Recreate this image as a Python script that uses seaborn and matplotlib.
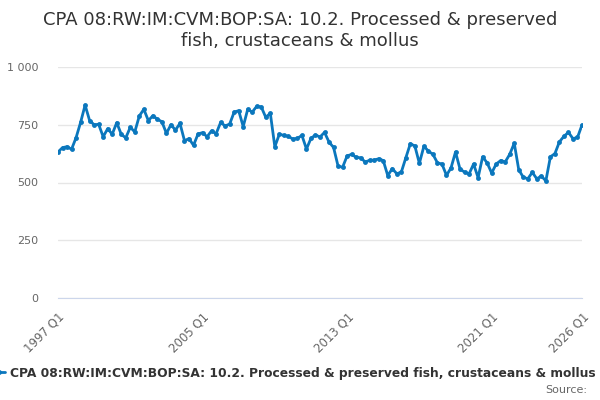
import numpy as np
import pandas as pd
import seaborn as sns
import matplotlib.pyplot as plt
from matplotlib.ticker import FuncFormatter

# quarterly values, 1997 Q1 .. 2026 Q1
vals_1997_2006 = [632, 651, 655, 644, 694, 760, 835, 768, 750, 752, 698, 733, 709, 759,
                  709, 693, 739, 719, 788, 817, 768, 789, 774, 763, 713, 750, 727, 756,
                  681, 690, 661, 710, 716, 698, 724, 711, 760, 745, 753]
vals_2006_2014 = [805, 811, 742, 817, 805, 830, 827, 782, 800, 655, 709, 704, 700, 688,
                  691, 704, 645, 691, 706, 697, 717, 675, 652, 571, 566, 615, 622, 609,
                  607, 589, 596, 597, 603]
vals_2015_2026 = [595, 530, 560, 538, 545, 607, 668, 658, 583, 657, 636, 622, 585, 580,
                  531, 563, 632, 558, 545, 537, 580, 521, 611, 585, 541, 580, 595, 589,
                  622, 670, 555, 523, 516, 544, 516, 528, 507, 611, 625, 676, 700, 717,
                  690, 695, 749]
values = vals_1997_2006 + vals_2006_2014 + vals_2015_2026
quarters = [f"{1997 + i // 4} Q{i % 4 + 1}" for i in range(len(values))]
labelled = ["1997 Q1", "2005 Q1", "2013 Q1", "2021 Q1", "2026 Q1"]
series_name = "CPA 08:RW:IM:CVM:BOP:SA: 10.2. Processed & preserved fish, crustaceans & mollus"

df = pd.DataFrame({"pos": np.arange(len(values)), "quarter": quarters, "value": values})

sns.set_style("white")
plt.rcParams['font.family'] = ['DejaVu Sans']

fig = plt.figure(figsize=(6, 4), dpi=100)
ax = fig.add_axes([58 / 600, 1 - 298 / 400, (582 - 58) / 600, (298 - 67) / 400])

sns.lineplot(data=df, x="pos", y="value", ax=ax, color="#0b77bd", linewidth=2,
             marker="o", markersize=3.5, markeredgewidth=0, label=series_name)

ax.set_xlim(0, len(values) - 1)
ax.set_ylim(0, 1000)
ax.set_yticks([0, 250, 500, 750, 1000])
ax.yaxis.set_major_formatter(FuncFormatter(lambda v, p: f"{int(v):,}".replace(",", " ")))
ax.grid(axis="y", color="#e6e6e6", linewidth=1)
ax.set_axisbelow(True)

tick_pos = list(range(0, len(values) - 1, 8)) + [len(values) - 1]
ax.set_xticks(tick_pos)
ax.set_xticklabels([quarters[i] if quarters[i] in labelled else "" for i in tick_pos],
                   rotation=45, ha="right", rotation_mode="anchor")
ax.tick_params(axis="x", length=6, color="#ccd6eb", labelsize=8.5, labelcolor="#666666", pad=3)
ax.tick_params(axis="y", length=0, labelsize=8, labelcolor="#666666", pad=14)
ax.set_xlabel("")
ax.set_ylabel("")
for s in ["top", "right", "left"]:
    ax.spines[s].set_visible(False)
ax.spines["bottom"].set_color("#ccd6eb")

fig.text(0.5, 0.972, "CPA 08:RW:IM:CVM:BOP:SA: 10.2. Processed & preserved\nfish, crustaceans & mollus",
         ha="center", va="top", fontsize=13, color="#333333", linespacing=1.2)

h, l = ax.get_legend_handles_labels()
ax.legend_.remove()
fig.legend(h, l, loc="center left", bbox_to_anchor=(-0.03, 1 - 373 / 400), frameon=False,
           handlelength=1.0, handletextpad=0.4, prop={"weight": "bold", "size": 8.8},
           labelcolor="#333333")
fig.text(0.978, 1 - 390 / 400, "Source:", ha="right", va="center", fontsize=8, color="#666666")

fig.savefig("out.png", dpi=100)
